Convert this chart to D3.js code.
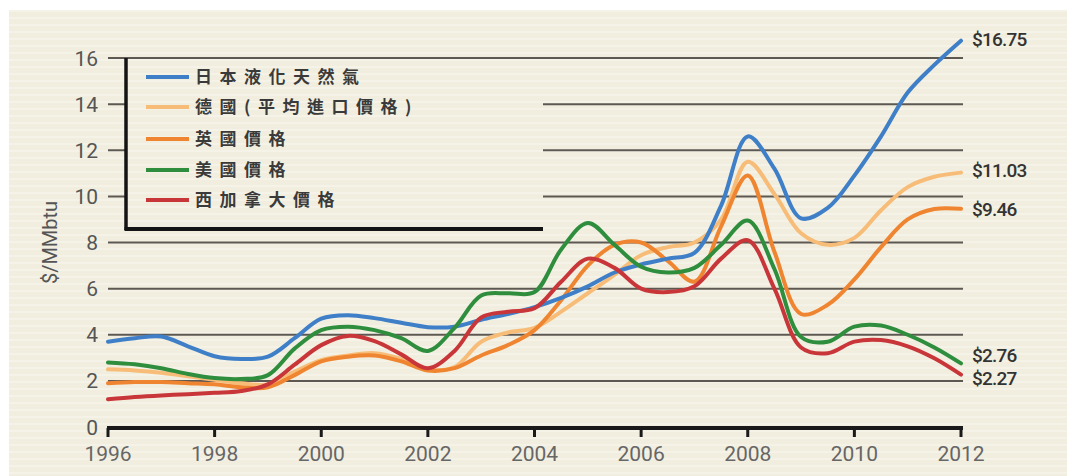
<!DOCTYPE html>
<html>
<head>
<meta charset="utf-8">
<script src="https://cdn.jsdelivr.net/npm/d3@7"></script>
<style>
  html, body { margin: 0; padding: 0; background: #ffffff; }
  svg { display: block; }
</style>
</head>
<body>
<svg id="chart" width="1067" height="476"></svg>
<script>
// ---- data ----
const years = [1996,1996.5,1997,1997.5,1998,1998.5,1999,1999.5,2000,2000.5,2001,2001.5,2002,2002.5,2003,2003.5,2004,2004.5,2005,2005.5,2006,2006.5,2007,2007.5,2008,2008.5,2009,2009.5,2010,2010.5,2011,2011.5,2012];
const japanLNG   = [3.7,3.85,3.92,3.5,3.07,2.95,3.05,3.85,4.7,4.85,4.72,4.52,4.33,4.35,4.65,4.9,5.2,5.6,6.1,6.7,7.05,7.3,7.55,9.6,12.6,11.2,9.05,9.5,10.9,12.6,14.5,15.7,16.75];
const germany    = [2.5,2.45,2.35,2.2,2.05,1.9,1.85,2.4,2.9,3.1,3.2,2.95,2.5,2.6,3.7,4.1,4.3,5.0,5.8,6.6,7.45,7.8,8.0,9.0,11.5,10.1,8.4,7.9,8.2,9.4,10.4,10.85,11.03];
const ukPrice    = [1.9,1.95,1.95,1.9,1.85,1.72,1.72,2.25,2.85,3.05,3.1,2.85,2.45,2.55,3.1,3.55,4.2,5.5,7.0,7.9,8.0,7.2,6.3,8.7,10.9,7.6,4.9,5.3,6.4,7.8,9.0,9.45,9.46];
const usPrice    = [2.8,2.72,2.55,2.3,2.12,2.08,2.25,3.4,4.2,4.35,4.2,3.85,3.3,4.3,5.7,5.8,5.85,7.7,8.85,7.9,6.95,6.7,6.9,7.9,8.95,6.85,3.9,3.7,4.35,4.4,4.0,3.45,2.76];
const canadaWest = [1.2,1.3,1.37,1.42,1.48,1.56,1.85,2.7,3.55,3.95,3.72,3.15,2.55,3.3,4.75,5.0,5.15,6.3,7.3,6.9,6.0,5.85,6.1,7.3,8.1,6.0,3.45,3.2,3.7,3.77,3.5,2.98,2.27];
const seriesNames = ["日本液化天然氣","德國(平均進口價格)","英國價格","美國價格","西加拿大價格"];
const seriesColors = ["#3e7fc8","#f7bd78","#ef8530","#2f8e3e","#c9363a"];
const endLabels = ["$16.75","$11.03","$9.46","$2.76","$2.27"];
const yTicks = [0,2,4,6,8,10,12,14,16];
const xTicks = [1996,1998,2000,2002,2004,2006,2008,2010,2012];
const yAxisTitle = "$/MMbtu";

const seriesValues = [japanLNG, germany, ukPrice, usPrice, canadaWest];

// ---- layout ----
const svg = d3.select("#chart");
const W = 1067, H = 476;
const x = d3.scaleLinear().domain([1996, 2012]).range([108, 961]);
const y = d3.scaleLinear().domain([0, 16]).range([427, 58]);

// background
const defs = svg.append("defs");
const pat = defs.append("pattern").attr("id","stripes").attr("patternUnits","userSpaceOnUse")
  .attr("width", 8).attr("height", 7);
pat.append("rect").attr("width",8).attr("height",7).attr("fill","#f1eedf");
pat.append("rect").attr("y",3).attr("width",8).attr("height",2).attr("fill","#f5f2e7");

svg.append("rect").attr("width", W).attr("height", H).attr("fill", "#ffffff");
svg.append("rect").attr("x", 9).attr("y", 10).attr("width", W - 9).attr("height", H - 10).attr("fill", "url(#stripes)");

// gridlines
svg.append("g").selectAll("line").data(yTicks.filter(d => d > 0)).join("line")
  .attr("x1", x(1996)).attr("x2", x(2012) + 2)
  .attr("y1", d => y(d)).attr("y2", d => y(d))
  .attr("stroke", "#5e5853").attr("stroke-width", 2);

// y tick labels
svg.append("g").selectAll("text").data(yTicks).join("text")
  .attr("x", 98).attr("y", d => y(d)).attr("dy", "0.36em")
  .attr("text-anchor", "end")
  .attr("font-family", "Roboto, 'Open Sans', sans-serif")
  .attr("font-size", 21).attr("fill", "#555")
  .text(d => d);

// y axis title
svg.append("text")
  .attr("transform", `translate(57, ${y(8)}) rotate(-90)`)
  .attr("text-anchor", "middle")
  .attr("font-family", "Roboto, 'Open Sans', sans-serif")
  .attr("font-size", 20).attr("fill", "#555")
  .text(yAxisTitle);

// x axis
const xAxis = svg.append("g").attr("transform", `translate(0, ${y(0) + 1})`);
xAxis.append("line").attr("x1", x(1996) - 1).attr("x2", x(2012) + 2)
  .attr("stroke", "#1a1a1a").attr("stroke-width", 4);
xAxis.selectAll("line.tick").data(xTicks).join("line").attr("class","tick")
  .attr("x1", d => x(d)).attr("x2", d => x(d)).attr("y1", 0).attr("y2", 9)
  .attr("stroke", "#1a1a1a").attr("stroke-width", 3);
xAxis.selectAll("text").data(xTicks).join("text")
  .attr("x", d => x(d)).attr("y", 33)
  .attr("text-anchor", "middle")
  .attr("font-family", "Roboto, 'Open Sans', sans-serif")
  .attr("font-size", 21).attr("fill", "#666")
  .text(d => d);

// lines
const line = d3.line().curve(d3.curveCatmullRom.alpha(0.5))
  .x(d => x(d[0])).y(d => y(d[1]));
const drawOrder = [1, 2, 0, 3, 4];
svg.append("g").selectAll("path").data(drawOrder).join("path")
  .attr("d", i => line(years.map((yr, k) => [yr, seriesValues[i][k]])))
  .attr("fill", "none")
  .attr("stroke", i => seriesColors[i])
  .attr("stroke-width", 4)
  .attr("stroke-linejoin", "round").attr("stroke-linecap", "round");

// legend box
const lg = svg.append("g");
lg.append("rect").attr("x", 126).attr("y", y(16) + 1.5).attr("width", 417).attr("height", 228 - y(16) - 1.5)
  .attr("fill", "url(#stripes)");
lg.append("line").attr("x1", 126).attr("x2", 126).attr("y1", y(16)).attr("y2", 230)
  .attr("stroke", "#141414").attr("stroke-width", 3.5);
lg.append("line").attr("x1", 124.5).attr("x2", 543).attr("y1", 229).attr("y2", 229)
  .attr("stroke", "#141414").attr("stroke-width", 4);
const rowsY = [77, 107, 139, 170, 200];
const items = lg.selectAll("g.item").data(seriesNames).join("g").attr("class","item")
  .attr("transform", (d, i) => `translate(0, ${rowsY[i]})`);
items.append("line").attr("x1", 146).attr("x2", 189).attr("y1", 0).attr("y2", 0)
  .attr("stroke", (d, i) => seriesColors[i]).attr("stroke-width", 4);
items.append("text").attr("x", 195).attr("y", 0).attr("dy", "0.36em")
  .attr("font-family", "'Noto Sans CJK TC', 'Noto Sans CJK SC', sans-serif")
  .attr("font-weight", 700).attr("font-size", 17).attr("letter-spacing", 7.5)
  .attr("fill", "#3a3a3a")
  .text(d => d);

// end labels
const endValues = seriesValues.map(s => s[s.length - 1]);
const labelOffsets = [-2, -2, 0, -8, 4];
svg.append("g").selectAll("text").data(endLabels).join("text")
  .attr("x", 972).attr("y", (d, i) => y(endValues[i]) + labelOffsets[i]).attr("dy", "0.36em")
  .attr("font-family", "Roboto, 'Open Sans', sans-serif")
  .attr("font-weight", 500).attr("font-size", 19).attr("letter-spacing", -0.8)
  .attr("fill", "#333")
  .text(d => d);
</script>
</body>
</html>
